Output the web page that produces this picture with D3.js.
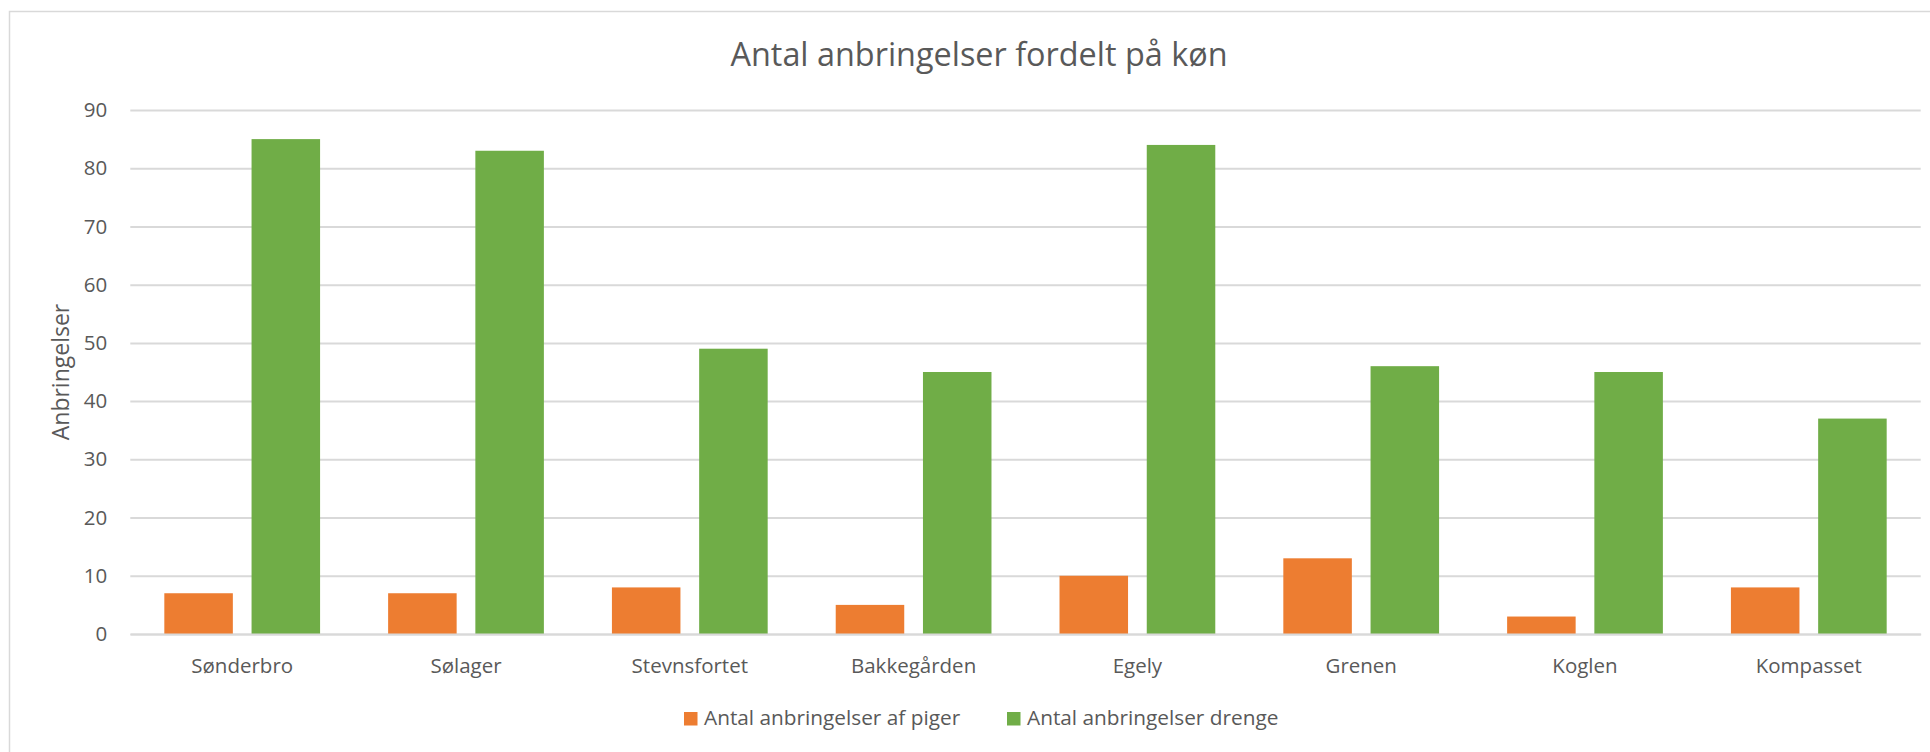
<!DOCTYPE html>
<html>
<head>
<meta charset="utf-8">
<script src="https://cdn.jsdelivr.net/npm/d3@7"></script>
<style>
  body { margin: 0; background: #fff; }
  text { font-family: "Open Sans", "Noto Sans", sans-serif; fill: #595959; }
</style>
</head>
<body>
<div id="chart"></div>
<script>
// Data
const categories = ["Sønderbro", "Sølager", "Stevnsfortet", "Bakkegården", "Egely", "Grenen", "Koglen", "Kompasset"];
const seriesNames = ["Antal anbringelser af piger", "Antal anbringelser drenge"];
const piger = [7, 7, 8, 5, 10, 13, 3, 8];
const drenge = [85, 83, 49, 45, 84, 46, 45, 37];
const yTicks = [0, 10, 20, 30, 40, 50, 60, 70, 80, 90];
const colors = ["#ED7D31", "#70AD47"];

const W = 1930, H = 752;
const plot = { left: 130.3, right: 1920.7, top: 110, bottom: 634 };

const svg = d3.select("#chart")
    .append("svg")
    .attr("width", W)
    .attr("height", H);

// ramme
svg.append("rect")
    .attr("x", 9.5).attr("y", 11.5)
    .attr("width", W).attr("height", H + 50)
    .attr("fill", "none")
    .attr("stroke", "#D9D9D9")
    .attr("stroke-width", 1.5);

// Titel
svg.append("text")
    .attr("x", 979)
    .attr("y", 65.7)
    .attr("text-anchor", "middle")
    .style("font-size", "32.4px")
    .text("Antal anbringelser fordelt på køn");

// Skalaer
const x0 = d3.scaleBand()
    .domain(categories)
    .range([plot.left, plot.right])
    .padding(0);

const x1 = d3.scaleBand()
    .domain(seriesNames)
    .range([0, x0.bandwidth()])
    .paddingInner(0.2145)
    .paddingOuter(0.39);

const y = d3.scaleLinear()
    .domain([0, 90])
    .range([plot.bottom, plot.top]);

// Y-akse med gitterlinjer
const yAxis = svg.append("g")
    .attr("transform", `translate(${plot.left},0)`)
    .call(d3.axisLeft(y)
        .tickValues(yTicks)
        .tickSize(-(plot.right - plot.left))
        .tickPadding(23));
yAxis.select(".domain").remove();
yAxis.selectAll("line")
    .attr("stroke", "#D9D9D9")
    .attr("stroke-width", 2);
yAxis.selectAll("text")
    .style("font-size", "20.5px")
    .style("fill", "#595959");

// Søjler
const rows = categories.map((c, i) => ({ cat: c, values: [piger[i], drenge[i]] }));

const groups = svg.selectAll(".grp")
    .data(rows)
    .enter().append("g")
    .attr("class", "grp")
    .attr("transform", d => `translate(${x0(d.cat)},0)`);

groups.selectAll("rect")
    .data(d => d.values.map((v, j) => ({ name: seriesNames[j], value: v, j })))
    .enter().append("rect")
    .attr("x", d => x1(d.name))
    .attr("y", d => y(d.value))
    .attr("width", x1.bandwidth())
    .attr("height", d => y(0) - y(d.value))
    .attr("fill", d => colors[d.j]);

// X-akse
const xAxis = svg.append("g")
    .attr("transform", `translate(0,${plot.bottom})`)
    .call(d3.axisBottom(x0).tickSize(0).tickPadding(24));
xAxis.select(".domain")
    .attr("stroke", "#D9D9D9")
    .attr("stroke-width", 2);
xAxis.selectAll("text")
    .style("font-size", "20.5px")
    .style("fill", "#595959");

// Y-aksetitel
svg.append("text")
    .attr("transform", `translate(69,${(plot.top + plot.bottom) / 2}) rotate(-90)`)
    .attr("text-anchor", "middle")
    .style("font-size", "23px")
    .text("Anbringelser");

// Legende
const legendX = [684, 1007];
const legend = svg.selectAll(".leg")
    .data(seriesNames)
    .enter().append("g")
    .attr("class", "leg")
    .attr("transform", (d, i) => `translate(${legendX[i]},0)`);

legend.append("rect")
    .attr("x", 0).attr("y", 712)
    .attr("width", 13.5).attr("height", 13.5)
    .attr("fill", (d, i) => colors[i]);

legend.append("text")
    .attr("x", 20)
    .attr("y", 725.3)
    .style("font-size", "20.8px")
    .text(d => d);
</script>
</body>
</html>
